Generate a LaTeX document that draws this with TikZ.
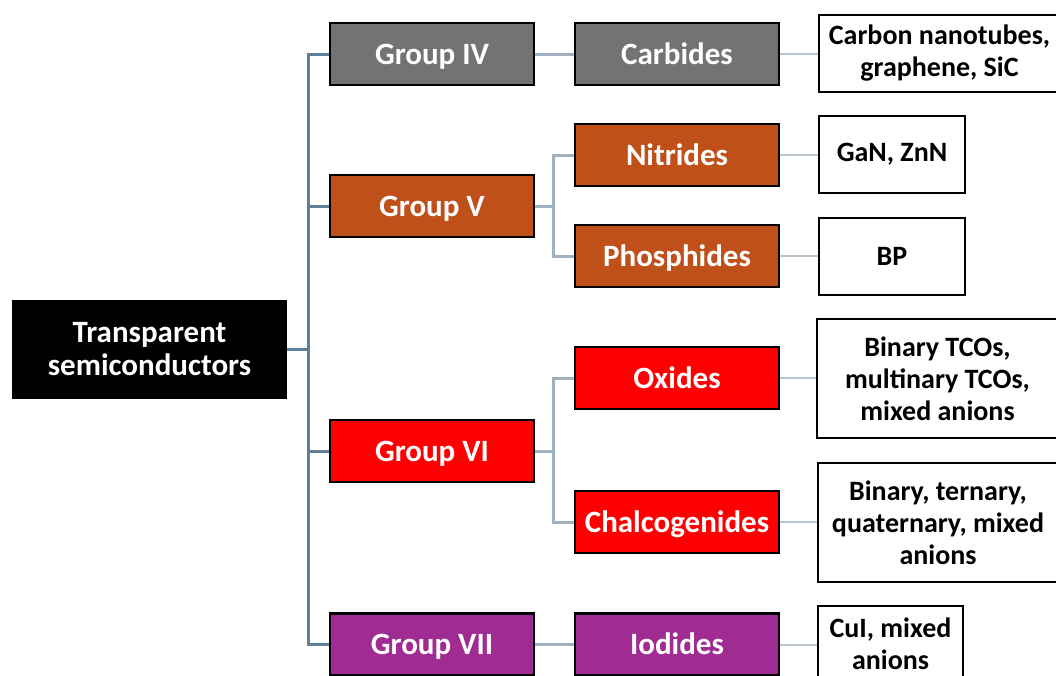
\documentclass[tikz,border=0pt]{standalone}
\usepackage{fontspec}
\setmainfont{Carlito}
\definecolor{grayIV}{HTML}{737373}
\definecolor{brownV}{HTML}{C0501A}
\definecolor{redVI}{HTML}{FF0000}
\definecolor{purpleVII}{HTML}{A02B93}
\definecolor{trunkblue}{HTML}{5F7E98}
\definecolor{forkblue}{HTML}{9FB1C1}
\definecolor{linkgray}{HTML}{BAC5CF}
\begin{document}
\begin{tikzpicture}[x=1pt, y=-1pt,
  every node/.style = {align=center, inner sep=0pt},
  grp/.style = {draw=black, line width=2.2pt, text=white,
    minimum width=204pt, minimum height=62pt,
    text height=26pt, text depth=6pt,
    font=\bfseries\fontsize{31}{33}\selectfont},
  leaf/.style = {draw=black, line width=2pt, fill=white,
    minimum height=77pt, font=\bfseries\fontsize{28}{32}\selectfont},
  trunk/.style = {draw=trunkblue, line width=3pt},
  fork/.style = {draw=forkblue, line width=3pt},
  link/.style = {draw=linkgray, line width=2pt}]
  \useasboundingbox (0,0) rectangle (1056,675);
  \clip (0,0) rectangle (1056,675);

  % root
  \node[fill=black, text=white, minimum width=275pt, minimum height=99pt,
    font=\bfseries\fontsize{31}{33}\selectfont] (root) at (149.5,349.5)
    {Transparent\\semiconductors};

  % groups
  \node[grp, fill=grayIV]    (g4) at (432,54)    {Group IV};
  \node[grp, fill=brownV]    (g5) at (432,206)   {Group V};
  \node[grp, fill=redVI]     (g6) at (432,451)   {Group VI};
  \node[grp, fill=purpleVII] (g7) at (432,644.5) {Group VII};

  % compound families
  \node[grp, fill=grayIV]    (carb)  at (677,54)    {Carbides};
  \node[grp, fill=brownV]    (nitr)  at (677,155)   {Nitrides};
  \node[grp, fill=brownV]    (phos)  at (677,256)   {Phosphides};
  \node[grp, fill=redVI]     (oxid)  at (677,378)   {Oxides};
  \node[grp, fill=redVI]     (chalc) at (677,522)   {Chalcogenides};
  \node[grp, fill=purpleVII] (iodi)  at (677,644.5) {Iodides};

  % materials
  \node[leaf, minimum width=241pt] (carbx) at (939.5,53.5) {Carbon nanotubes,\\graphene, SiC};
  \node[leaf, minimum width=146pt] (nitrx) at (892,154.5) {GaN, ZnN};
  \node[leaf, minimum width=146pt] (phosx) at (892,256.5) {BP};
  \node[leaf, minimum width=241pt, minimum height=119pt] (oxidx) at (937.5,378.5)
    {Binary TCOs,\\multinary TCOs,\\mixed anions};
  \node[leaf, minimum width=241pt, minimum height=119pt] (chalcx) at (938,522.5)
    {Binary, ternary,\\quaternary, mixed\\anions};
  \node[leaf, minimum width=145pt] (iodix) at (890.5,644) {CuI, mixed\\anions};

  % connectors
  \coordinate (tr) at (308,349.5);
  \coordinate (f5) at (553,206);
  \coordinate (f6) at (553,451);
  \draw[trunk] (root.east) -- (tr);
  \draw[trunk] (g4.west) -| (tr) |- (g7.west);
  \draw[trunk] (tr |- g5.west) -- (g5.west);
  \draw[trunk] (tr |- g6.west) -- (g6.west);

  \draw[fork] (g4.east) -- (carb.west);
  \draw[fork] (g5.east) -- (f5);
  \draw[fork] (nitr.west) -| (f5) |- (phos.west);
  \draw[fork] (g6.east) -- (f6);
  \draw[fork] (oxid.west) -| (f6) |- (chalc.west);
  \draw[fork] (g7.east) -- (iodi.west);

  \draw[link] (carb.east)  -- (carb.east -| carbx.west);
  \draw[link] (nitr.east)  -- (nitr.east -| nitrx.west);
  \draw[link] (phos.east)  -- (phos.east -| phosx.west);
  \draw[link] (oxid.east)  -- (oxid.east -| oxidx.west);
  \draw[link] (chalc.east) -- (chalc.east -| chalcx.west);
  \draw[link] (iodi.east)  -- (iodi.east -| iodix.west);
\end{tikzpicture}
\end{document}
